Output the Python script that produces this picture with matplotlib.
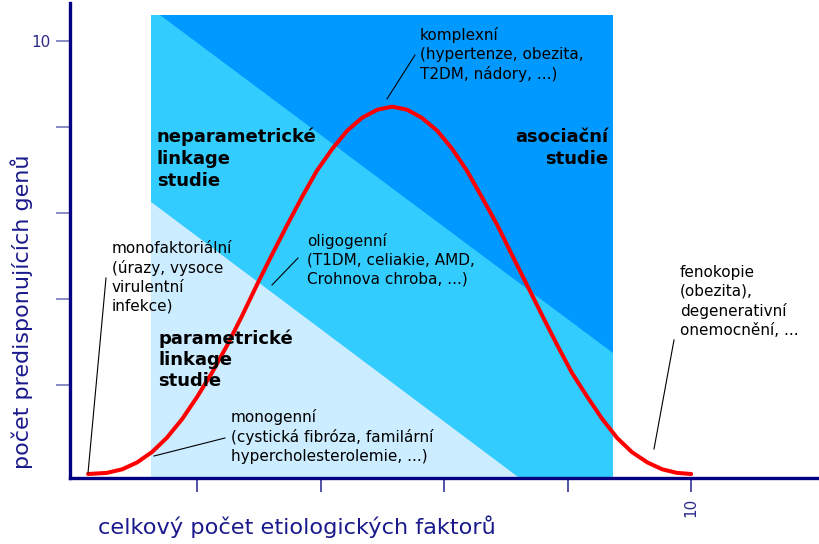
import matplotlib
matplotlib.use("Agg")
import matplotlib.pyplot as plt
from matplotlib.patches import Polygon

# ---- data ----
curve_x = [0.235, 0.54, 0.79, 1.03, 1.27, 1.51, 1.76, 2.00, 2.24, 2.49, 2.73,
           2.97, 3.21, 3.46, 3.70, 3.94, 4.19, 4.43, 4.67, 4.92, 5.16,
           5.40, 5.64, 5.89, 6.13, 6.37, 6.61, 6.86, 7.10, 7.34, 7.59,
           7.83, 8.07, 8.32, 8.56, 8.80, 9.04, 9.29, 9.53, 9.77, 10.00]
curve_y = [-0.07, -0.044, 0.04, 0.20, 0.44, 0.77, 1.21, 1.72, 2.28, 2.93, 3.61,
           4.33, 5.02, 5.72, 6.37, 6.98, 7.49, 7.91, 8.21, 8.40, 8.47,
           8.40, 8.21, 7.91, 7.49, 6.98, 6.37, 5.72, 5.02, 4.33, 3.61,
           2.93, 2.28, 1.72, 1.21, 0.77, 0.44, 0.20, 0.04, -0.044, -0.07]

# study regions (x range of all studies, boundaries of the diagonal bands)
study_x = [1.255, 8.737]
study_top = 10.605
light_edge_x = [1.255, 7.22]     # parametric linkage (lower-left triangle)
light_edge_y = [6.256, -0.163]
dark_edge_x = [1.401, 8.737]     # association studies (upper-right)
dark_edge_y = [10.605, 2.744]

xticks = [2, 4, 6, 8, 10]
xtick_labels = ["", "", "", "", "10"]
yticks = [2, 4, 6, 8, 10]
ytick_labels = ["", "", "", "", "10"]

W, H = 819, 544
fig = plt.figure(figsize=(W / 100, H / 100), dpi=100)
ax = fig.add_axes([70 / W, 66 / H, 749 / W, 475 / H])
xmin, xmax = -0.057, 12.07
ymin, ymax = -0.163, 10.88
ax.set_xlim(xmin, xmax)
ax.set_ylim(ymin, ymax)

c_mid = "#33CCFF"
c_dark = "#0099FF"
c_light = "#CCECFF"

ax.add_patch(Polygon([(study_x[0], ymin), (study_x[1], ymin),
                      (study_x[1], study_top), (study_x[0], study_top)],
                     closed=True, facecolor=c_mid, edgecolor="none", zorder=1))
ax.add_patch(Polygon([(light_edge_x[0], ymin), (light_edge_x[0], light_edge_y[0]),
                      (light_edge_x[1], light_edge_y[1]), (light_edge_x[1], ymin)],
                     closed=True, facecolor=c_light, edgecolor="none", zorder=2))
ax.add_patch(Polygon([(dark_edge_x[0], dark_edge_y[0]), (study_x[1], study_top),
                      (dark_edge_x[1], dark_edge_y[1])],
                     closed=True, facecolor=c_dark, edgecolor="none", zorder=2))

ax.plot(curve_x, curve_y, color="#FF0000", lw=2.9, zorder=5,
        solid_capstyle="round", solid_joinstyle="round")

for s in ["top", "right"]:
    ax.spines[s].set_visible(False)
for s in ["left", "bottom"]:
    ax.spines[s].set_color("#000080")
    ax.spines[s].set_linewidth(2.4)
    ax.spines[s].set_zorder(6)

ax.set_xticks(xticks)
ax.set_xticklabels(xtick_labels, rotation=90, fontsize=11, color="#2A2A8C")
ax.set_yticks(yticks)
ax.set_yticklabels(ytick_labels, fontsize=11, color="#2A2A8C")
ax.tick_params(axis="x", direction="out", length=10, width=1.2, color="#333399", pad=4)
ax.tick_params(axis="y", direction="out", length=10, width=1.2, color="#7777BB", pad=4)

navy = "#1A1A8C"
fig.text(297 / W, 1 - 527 / H, "celkový počet etiologických faktorů",
         ha="center", va="center", fontsize=16.2, color=navy)
fig.text(22 / W, 1 - 312 / H, "počet predisponujících genů", rotation=90,
         ha="center", va="center", fontsize=16, color=navy)

def T(x, y, s, bold=False, ha="left", size=11, ls=1.32):
    fig.text(x / W, 1 - y / H, s, ha=ha, va="top", fontsize=size,
             fontweight="bold" if bold else "normal", color="black",
             linespacing=ls, zorder=10)

def L(x0, y0, x1, y1):
    fig.add_artist(plt.Line2D([x0 / W, x1 / W], [1 - y0 / H, 1 - y1 / H],
                              color="black", lw=0.8, zorder=9))

T(420, 27, "komplexní\n(hypertenze, obezita,\nT2DM, nádory, ...)")
L(387, 99, 415, 55)
T(157, 128, "neparametrické\nlinkage\nstudie", bold=True, size=13, ls=1.25)
T(608, 128, "asociační\nstudie", bold=True, size=13, ls=1.25, ha="right")
T(307, 233, "oligogenní\n(T1DM, celiakie, AMD,\nCrohnova chroba, ...)")
L(298, 258, 272, 285)
T(112, 241, "monofaktoriální\n(úrazy, vysoce\nvirulentní\ninfekce)")
L(106, 278, 88, 473)
T(158, 329, "parametrické\nlinkage\nstudie", bold=True, size=13, ls=1.25)
T(231, 409, "monogenní\n(cystická fibróza, familární\nhypercholesterolemie, ...)")
L(225, 438, 154, 456)
T(680, 265, "fenokopie\n(obezita),\ndegenerativní\nonemocnění, ...")
L(674, 340, 654, 449)

fig.savefig("out.png", dpi=100)
